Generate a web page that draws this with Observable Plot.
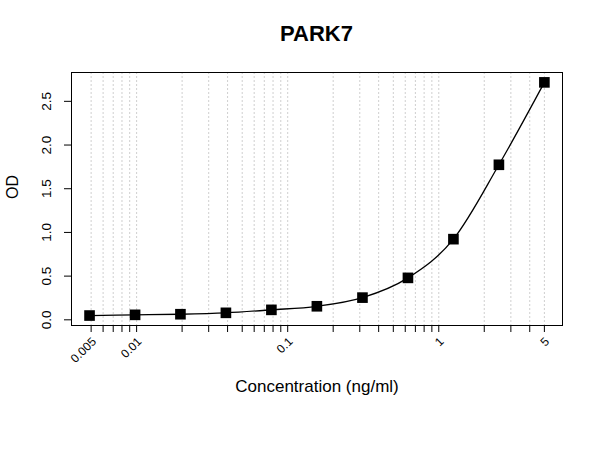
<!DOCTYPE html>
<html>
<head>
<meta charset="utf-8">
<script src="https://cdn.jsdelivr.net/npm/d3@7"></script>
<script src="https://cdn.jsdelivr.net/npm/@observablehq/plot@0.6"></script>
<style>
  html, body { margin: 0; padding: 0; background: #fff; }
  #wrap { width: 600px; height: 450px; position: relative; font-family: "Liberation Sans", Arial, sans-serif; }
  #title { width: 600px; height: 50px; box-sizing: border-box; padding-left: 33px; padding-top: 22px;
           text-align: center; font-weight: bold; font-size: 22px; line-height: 24px; color: #000; }
  svg { display: block; }
</style>
</head>
<body>
<div id="wrap">
  <div id="title">PARK7</div>
  <div id="chart"></div>
</div>
<script>
const concentration = [0.00488, 0.00977, 0.0195, 0.039, 0.078, 0.156, 0.3125, 0.625, 1.25, 2.5, 5];
const od = [0.049, 0.057, 0.064, 0.080, 0.114, 0.155, 0.254, 0.480, 0.923, 1.774, 2.717];
const xMajorTicks = [0.005, 0.01, 0.1, 1, 5];
const xMinorTicks = [0.006, 0.007, 0.008, 0.009,
  0.02, 0.03, 0.04, 0.05, 0.06, 0.07, 0.08, 0.09,
  0.2, 0.3, 0.4, 0.5, 0.6, 0.7, 0.8, 0.9,
  2, 3, 4];
const xMajorLabels = ["0.005", "0.01", "0.1", "1", "5"];
const yTicks = [0, 0.5, 1, 1.5, 2, 2.5];
const yLabels = ["0.0", "0.5", "1.0", "1.5", "2.0", "2.5"];
const xTitle = "Concentration (ng/ml)";
const yTitle = "OD";

const points = concentration.map((c, i) => ({c, od: od[i]}));
const gridTicks = [...xMajorTicks, ...xMinorTicks];
const majorLabelRows = xMajorTicks.map((t, i) => ({t, label: xMajorLabels[i]}));
const yLabelRows = yTicks.map((t, i) => ({t, label: yLabels[i]}));

const chart = Plot.plot({
  width: 600,
  height: 400,
  marginTop: 22,
  marginBottom: 125,
  marginLeft: 71,
  marginRight: 38,
  style: {fontFamily: "Liberation Sans, Arial, sans-serif", color: "#000", background: "#fff"},
  x: {type: "log", domain: [0.003707, 6.59], axis: null},
  y: {domain: [-0.065, 2.83], axis: null},
  marks: [
    Plot.gridX(gridTicks, {stroke: "#cfcfcf", strokeOpacity: 1, strokeDasharray: "2,2", strokeWidth: 1}),
    Plot.frame({stroke: "#000", strokeWidth: 1}),
    Plot.axisX(gridTicks, {anchor: "bottom", tickSize: 7, tickFormat: () => "", label: null, stroke: "#000"}),
    Plot.text(majorLabelRows, {x: "t", text: "label", frameAnchor: "bottom", rotate: -45,
      textAnchor: "end", lineAnchor: "middle", dx: 3, dy: 14, fontSize: 12, fill: "#000"}),
    Plot.axisY(yTicks, {anchor: "left", tickSize: 7, tickFormat: () => "", label: null, stroke: "#000"}),
    Plot.text(yLabelRows, {y: "t", text: "label", frameAnchor: "left", rotate: -90, dx: -25,
      textAnchor: "middle", lineAnchor: "middle", fontSize: 13.5, fill: "#000"}),
    Plot.text([xTitle], {frameAnchor: "bottom", dy: 61, text: d => d, fontSize: 17, fill: "#000", lineAnchor: "middle"}),
    Plot.text([yTitle], {frameAnchor: "left", dx: -59, rotate: -90, text: d => d, fontSize: 16, fill: "#000", lineAnchor: "middle"}),
    Plot.line(points, {x: "c", y: "od", curve: "monotone-x", stroke: "#000", strokeWidth: 1.3}),
    Plot.dot(points, {x: "c", y: "od", symbol: "square", r: 6, fill: "#000", stroke: "none"})
  ]
});
document.getElementById("chart").appendChild(chart);
</script>
</body>
</html>
